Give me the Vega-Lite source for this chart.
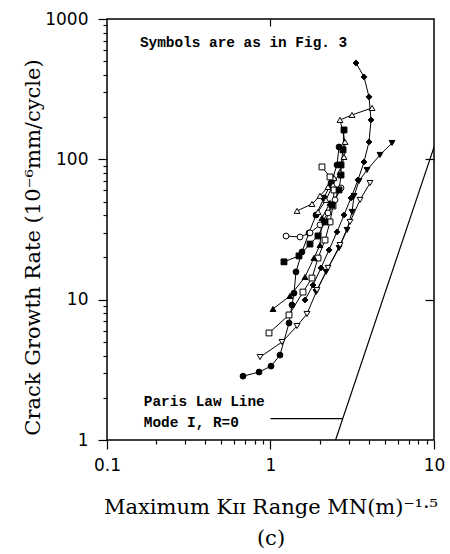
{
  "$schema": "https://vega.github.io/schema/vega-lite/v6.json",
  "width": 327,
  "height": 421,
  "autosize": "none",
  "padding": {"left": 107, "top": 19, "right": 16, "bottom": 114},
  "background": "white",
  "config": {"view": {"stroke": "black", "strokeWidth": 1.5}},
  "datasets": {
    "points": [
      {"series": "filled circle", "i": 1, "x": 0.679, "y": 2.85},
      {"series": "filled circle", "i": 2, "x": 0.851, "y": 3.05},
      {"series": "filled circle", "i": 3, "x": 1.007, "y": 3.36},
      {"series": "filled circle", "i": 4, "x": 1.143, "y": 4.03},
      {"series": "filled circle", "i": 5, "x": 1.298, "y": 6.82},
      {"series": "filled circle", "i": 6, "x": 1.354, "y": 9.16},
      {"series": "filled circle", "i": 7, "x": 1.392, "y": 11.13},
      {"series": "filled circle", "i": 8, "x": 1.432, "y": 15.78},
      {"series": "filled circle", "i": 9, "x": 1.558, "y": 21.9},
      {"series": "filled circle", "i": 10, "x": 1.72, "y": 29.9},
      {"series": "filled circle", "i": 11, "x": 1.898, "y": 40.1},
      {"series": "filled circle", "i": 12, "x": 2.125, "y": 53.1},
      {"series": "filled circle", "i": 13, "x": 2.345, "y": 67.8},
      {"series": "filled circle", "i": 14, "x": 2.552, "y": 91.2},
      {"series": "filled circle", "i": 15, "x": 2.625, "y": 122.5},

      {"series": "filled diamond", "i": 1, "x": 3.334, "y": 486},
      {"series": "filled diamond", "i": 2, "x": 3.733, "y": 386.6},
      {"series": "filled diamond", "i": 3, "x": 4.004, "y": 278.6},
      {"series": "filled diamond", "i": 4, "x": 4.119, "y": 190.9},
      {"series": "filled diamond", "i": 5, "x": 4.004, "y": 133.1},
      {"series": "filled diamond", "i": 6, "x": 3.733, "y": 95.8},
      {"series": "filled diamond", "i": 7, "x": 3.429, "y": 71.3},
      {"series": "filled diamond", "i": 8, "x": 3.107, "y": 53.1},
      {"series": "filled diamond", "i": 9, "x": 2.816, "y": 40.1},
      {"series": "filled diamond", "i": 10, "x": 2.552, "y": 30.4},
      {"series": "filled diamond", "i": 11, "x": 2.28, "y": 22.6},
      {"series": "filled diamond", "i": 12, "x": 2.036, "y": 16.84},
      {"series": "filled diamond", "i": 13, "x": 1.819, "y": 12.7},
      {"series": "filled diamond", "i": 14, "x": 1.626, "y": 9.95},

      {"series": "open triangle A", "i": 1, "x": 4.177, "y": 232.4},
      {"series": "open triangle A", "i": 2, "x": 3.152, "y": 207.2},
      {"series": "open triangle A", "i": 3, "x": 2.662, "y": 190.9},
      {"series": "open triangle A", "i": 4, "x": 2.856, "y": 133.1},
      {"series": "open triangle A", "i": 5, "x": 2.816, "y": 104},
      {"series": "open triangle A", "i": 6, "x": 2.662, "y": 81.3},
      {"series": "open triangle A", "i": 7, "x": 2.411, "y": 65.7},
      {"series": "open triangle A", "i": 8, "x": 2.185, "y": 51.4},
      {"series": "open triangle A", "i": 9, "x": 1.952, "y": 42.2},

      {"series": "open triangle B", "i": 1, "x": 1.453, "y": 42.9},
      {"series": "open triangle B", "i": 2, "x": 1.794, "y": 48.1},
      {"series": "open triangle B", "i": 3, "x": 2.008, "y": 54.9},
      {"series": "open triangle B", "i": 4, "x": 2.248, "y": 63.6},
      {"series": "open triangle B", "i": 5, "x": 2.446, "y": 73.7},

      {"series": "filled triangle down", "i": 1, "x": 5.536, "y": 130.8},
      {"series": "filled triangle down", "i": 2, "x": 4.675, "y": 107.5},
      {"series": "filled triangle down", "i": 3, "x": 3.893, "y": 84},
      {"series": "filled triangle down", "i": 4, "x": 3.479, "y": 70.1},
      {"series": "filled triangle down", "i": 5, "x": 3.242, "y": 54.8},
      {"series": "filled triangle down", "i": 6, "x": 3.152, "y": 42.2},
      {"series": "filled triangle down", "i": 7, "x": 2.939, "y": 31.4},
      {"series": "filled triangle down", "i": 8, "x": 2.625, "y": 23.35},
      {"series": "filled triangle down", "i": 9, "x": 2.185, "y": 15.78},
      {"series": "filled triangle down", "i": 10, "x": 1.898, "y": 11.33},

      {"series": "open triangle down", "i": 1, "x": 4.061, "y": 67.8},
      {"series": "open triangle down", "i": 2, "x": 3.528, "y": 51.4},
      {"series": "open triangle down", "i": 3, "x": 3.064, "y": 35.8},
      {"series": "open triangle down", "i": 4, "x": 2.662, "y": 24.5},
      {"series": "open triangle down", "i": 5, "x": 2.248, "y": 16.84},
      {"series": "open triangle down", "i": 6, "x": 1.925, "y": 11.7},
      {"series": "open triangle down", "i": 7, "x": 1.672, "y": 7.91},
      {"series": "open triangle down", "i": 8, "x": 1.453, "y": 6.49},
      {"series": "open triangle down", "i": 9, "x": 1.176, "y": 4.99},
      {"series": "open triangle down", "i": 10, "x": 0.863, "y": 3.9},

      {"series": "open square", "i": 1, "x": 2.065, "y": 88.3},
      {"series": "open square", "i": 2, "x": 2.312, "y": 74.9},
      {"series": "open square", "i": 3, "x": 2.446, "y": 60.5},
      {"series": "open square", "i": 4, "x": 2.411, "y": 46.5},
      {"series": "open square", "i": 5, "x": 2.312, "y": 35.8},
      {"series": "open square", "i": 6, "x": 2.155, "y": 26.6},
      {"series": "open square", "i": 7, "x": 1.952, "y": 19.8},
      {"series": "open square", "i": 8, "x": 1.794, "y": 14.26},
      {"series": "open square", "i": 9, "x": 1.58, "y": 11.33},
      {"series": "open square", "i": 10, "x": 1.298, "y": 7.78},
      {"series": "open square", "i": 11, "x": 0.979, "y": 5.79},

      {"series": "open circle", "i": 1, "x": 1.244, "y": 28.4},
      {"series": "open circle", "i": 2, "x": 1.515, "y": 27.96},
      {"series": "open circle", "i": 3, "x": 1.744, "y": 29.9},
      {"series": "open circle", "i": 4, "x": 2.008, "y": 34.1},
      {"series": "open circle", "i": 5, "x": 2.248, "y": 41.5},
      {"series": "open circle", "i": 6, "x": 2.481, "y": 51.4},
      {"series": "open circle", "i": 7, "x": 2.7, "y": 62.5},

      {"series": "filled square", "i": 1, "x": 1.209, "y": 18.6},
      {"series": "filled square", "i": 2, "x": 1.494, "y": 20.5},
      {"series": "filled square", "i": 3, "x": 1.744, "y": 24.9},
      {"series": "filled square", "i": 4, "x": 1.952, "y": 28.45},
      {"series": "filled square", "i": 5, "x": 2.155, "y": 35.8},
      {"series": "filled square", "i": 6, "x": 2.378, "y": 47.3},
      {"series": "filled square", "i": 7, "x": 2.625, "y": 60.5},
      {"series": "filled square", "i": 8, "x": 2.7, "y": 77.3},
      {"series": "filled square", "i": 9, "x": 2.7, "y": 91.2},
      {"series": "filled square", "i": 10, "x": 2.777, "y": 116.7},
      {"series": "filled square", "i": 11, "x": 2.816, "y": 162},

      {"series": "filled triangle", "i": 1, "x": 1.036, "y": 8.59},
      {"series": "filled triangle", "i": 2, "x": 1.316, "y": 10.63},
      {"series": "filled triangle", "i": 3, "x": 1.626, "y": 14.5},
      {"series": "filled triangle", "i": 4, "x": 1.845, "y": 19.84},
      {"series": "filled triangle", "i": 5, "x": 2.008, "y": 24.5},
      {"series": "filled triangle", "i": 6, "x": 2.065, "y": 38.2},
      {"series": "filled triangle", "i": 7, "x": 2.312, "y": 48.9}
    ],
    "paris": [{"x": 2.5, "y": 1}, {"x": 10, "y": 122}],
    "leader": [{"x": 1.0, "y": 1.42}, {"x": 2.77, "y": 1.42}],
    "notes": [
      {"x": 0.159, "y": 676, "text": "Symbols are as in Fig. 3"},
      {"x": 0.168, "y": 1.86, "text": "Paris Law Line"},
      {"x": 0.168, "y": 1.32, "text": "Mode I, R=0"}
    ]
  },
  "resolve": {"axis": {"x": "independent", "y": "independent"}},
  "layer": [
    {
      "data": {"name": "points"},
      "mark": {"type": "line", "color": "black", "strokeWidth": 1},
      "encoding": {
        "x": {
          "field": "x", "type": "quantitative",
          "scale": {"type": "log", "domain": [0.1, 10]},
          "axis": {
            "orient": "bottom",
            "values": [0.1, 0.2, 0.3, 0.4, 0.5, 0.6, 0.7, 0.8, 0.9, 1, 2, 3, 4, 5, 6, 7, 8, 9, 10],
            "labelExpr": "datum.value == 0.1 ? '0.1' : datum.value == 1 ? '1' : datum.value == 10 ? '10' : ''",
            "tickSize": {"condition": {"test": "datum.value == 0.1 || datum.value == 1 || datum.value == 10", "value": 9}, "value": 4},
            "tickColor": "black", "tickWidth": 1.2,
            "domain": false, "grid": false, "labelFlush": false,
            "labelFont": "DejaVu Sans", "labelFontSize": 17, "labelColor": "black", "labelPadding": 8,
            "title": ["Maximum Kɪɪ Range  MN(m)⁻¹·⁵", "(c)"],
            "titleFont": "DejaVu Serif", "titleFontSize": 21, "titleFontWeight": "normal",
            "titleColor": "black", "titlePadding": 23, "titleLineHeight": 31
          }
        },
        "y": {
          "field": "y", "type": "quantitative",
          "scale": {"type": "log", "domain": [1, 1000]},
          "axis": {
            "orient": "left",
            "values": [1, 2, 3, 4, 5, 6, 7, 8, 9, 10, 20, 30, 40, 50, 60, 70, 80, 90, 100, 200, 300, 400, 500, 600, 700, 800, 900, 1000],
            "labelExpr": "datum.value == 1 ? '1' : datum.value == 10 ? '10' : datum.value == 100 ? '100' : datum.value == 1000 ? '1000' : ''",
            "tickSize": {"condition": {"test": "datum.value == 1 || datum.value == 10 || datum.value == 100 || datum.value == 1000", "value": 9}, "value": 4},
            "tickColor": "black", "tickWidth": 1.2,
            "domain": false, "grid": false,
            "labelFont": "DejaVu Sans", "labelFontSize": 17, "labelColor": "black", "labelPadding": 10,
            "title": "Crack Growth Rate (10⁻⁶mm/cycle)",
            "titleFont": "DejaVu Serif", "titleFontSize": 21, "titleFontWeight": "normal",
            "titleColor": "black", "titlePadding": 1, "titleY": 228
          }
        },
        "detail": {"field": "series"},
        "order": {"field": "i", "type": "quantitative"}
      }
    },
    {
      "data": {"name": "points"},
      "mark": {"type": "point", "filled": true, "stroke": "black", "strokeWidth": 1, "size": 34, "opacity": 1},
      "encoding": {
        "x": {"field": "x", "type": "quantitative", "scale": {"type": "log", "domain": [0.1, 10]}, "axis": null},
        "y": {"field": "y", "type": "quantitative", "scale": {"type": "log", "domain": [1, 1000]}, "axis": null},
        "shape": {
          "field": "series", "type": "nominal", "legend": null,
          "scale": {
            "domain": ["filled circle", "filled diamond", "open triangle A", "open triangle B", "filled triangle down", "open triangle down", "open square", "open circle", "filled square", "filled triangle"],
            "range": ["circle", "diamond", "triangle-up", "triangle-up", "triangle-down", "triangle-down", "square", "circle", "square", "triangle-up"]
          }
        },
        "fill": {
          "field": "series", "type": "nominal", "legend": null,
          "scale": {
            "domain": ["filled circle", "filled diamond", "open triangle A", "open triangle B", "filled triangle down", "open triangle down", "open square", "open circle", "filled square", "filled triangle"],
            "range": ["black", "black", "white", "white", "black", "white", "white", "white", "black", "black"]
          }
        }
      }
    },
    {
      "data": {"name": "paris"},
      "mark": {"type": "line", "color": "black", "strokeWidth": 1.2, "clip": true},
      "encoding": {
        "x": {
          "field": "x", "type": "quantitative", "scale": {"type": "log", "domain": [0.1, 10]},
          "axis": {"orient": "top", "values": [1], "labels": false, "tickSize": -7, "tickColor": "black", "tickWidth": 1.2, "domain": false, "grid": false, "title": null}
        },
        "y": {
          "field": "y", "type": "quantitative", "scale": {"type": "log", "domain": [1, 1000]},
          "axis": {"orient": "right", "values": [10, 100], "labels": false, "tickSize": -9, "tickColor": "black", "tickWidth": 1.2, "domain": false, "grid": false, "title": null}
        }
      }
    },
    {
      "data": {"name": "leader"},
      "mark": {"type": "line", "color": "black", "strokeWidth": 1.2},
      "encoding": {
        "x": {"field": "x", "type": "quantitative", "scale": {"type": "log", "domain": [0.1, 10]}, "axis": null},
        "y": {"field": "y", "type": "quantitative", "scale": {"type": "log", "domain": [1, 1000]}, "axis": null}
      }
    },
    {
      "data": {"name": "notes"},
      "mark": {"type": "text", "align": "left", "baseline": "middle", "font": "Liberation Mono", "fontSize": 14.4, "fontWeight": "bold", "color": "black"},
      "encoding": {
        "x": {"field": "x", "type": "quantitative", "scale": {"type": "log", "domain": [0.1, 10]}, "axis": null},
        "y": {"field": "y", "type": "quantitative", "scale": {"type": "log", "domain": [1, 1000]}, "axis": null},
        "text": {"field": "text"}
      }
    }
  ]
}
